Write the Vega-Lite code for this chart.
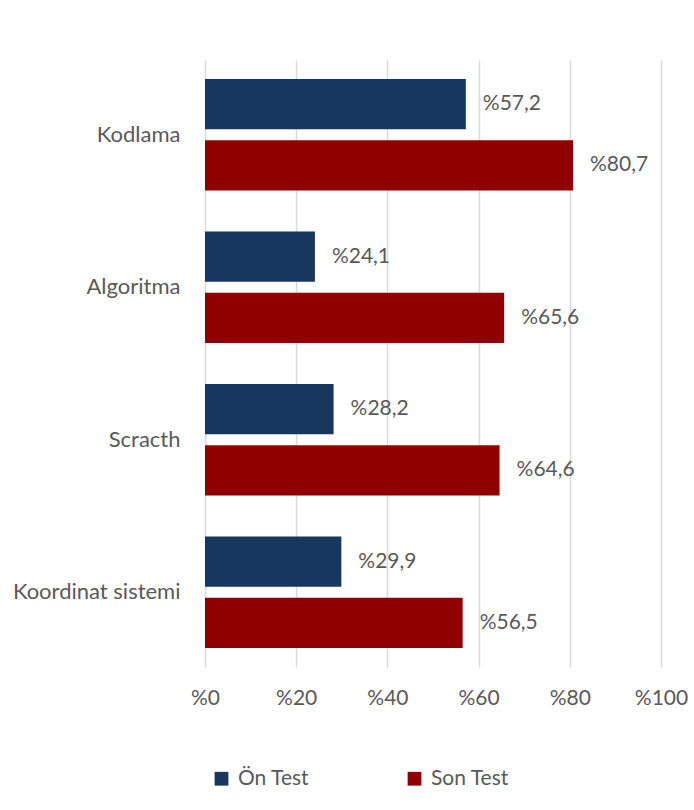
{
  "$schema": "https://vega.github.io/schema/vega-lite/v6.json",
  "autosize": "none",
  "width": 456,
  "height": 607,
  "padding": {"left": 205, "top": 60, "right": 33, "bottom": 143},
  "background": "white",
  "config": {
    "locale": {"number": {"decimal": ",", "thousands": ".", "grouping": [3], "currency": ["%", ""]}},
    "view": {"stroke": null},
    "font": "Lato",
    "text": {"font": "Lato"}
  },
  "data": {
    "values": [
      {"konu": "Kodlama", "test": "Ön Test", "deger": 57.2},
      {"konu": "Kodlama", "test": "Son Test", "deger": 80.7},
      {"konu": "Algoritma", "test": "Ön Test", "deger": 24.1},
      {"konu": "Algoritma", "test": "Son Test", "deger": 65.6},
      {"konu": "Scracth", "test": "Ön Test", "deger": 28.2},
      {"konu": "Scracth", "test": "Son Test", "deger": 64.6},
      {"konu": "Koordinat sistemi", "test": "Ön Test", "deger": 29.9},
      {"konu": "Koordinat sistemi", "test": "Son Test", "deger": 56.5}
    ]
  },
  "encoding": {
    "y": {
      "field": "konu", "type": "nominal",
      "sort": ["Kodlama", "Algoritma", "Scracth", "Koordinat sistemi"],
      "scale": {"paddingInner": 0.27, "paddingOuter": 0.125},
      "axis": {"title": null, "ticks": false, "domain": false, "labelFontSize": 22, "labelColor": "#595959", "labelPadding": 25, "labelFont": "Lato"}
    },
    "yOffset": {
      "field": "test", "type": "nominal",
      "sort": ["Ön Test", "Son Test"],
      "scale": {"paddingInner": 0.18, "paddingOuter": 0}
    },
    "x": {
      "field": "deger", "type": "quantitative",
      "scale": {"domain": [0, 100], "nice": false},
      "axis": {"title": null, "values": [0, 20, 40, 60, 80, 100], "format": "$d", "domain": false, "ticks": false, "labelFlush": false, "gridColor": "#d9d9d9", "gridWidth": 1.5, "labelFontSize": 21, "labelColor": "#595959", "labelPadding": 20, "labelFont": "Lato"}
    }
  },
  "layer": [
    {
      "mark": {"type": "bar"},
      "encoding": {
        "color": {
          "field": "test", "type": "nominal",
          "sort": ["Ön Test", "Son Test"],
          "scale": {"domain": ["Ön Test", "Son Test"], "range": ["#17375E", "#900000"]},
          "legend": {"title": null, "orient": "bottom", "direction": "horizontal", "symbolType": "square", "symbolSize": 190, "symbolStrokeWidth": 0, "symbolOpacity": 1, "labelOffset": 6, "labelFontSize": 21, "labelColor": "#595959", "labelFont": "Lato", "columnPadding": 94, "offset": 54, "padding": 6}
        }
      }
    },
    {
      "mark": {"type": "text", "align": "left", "dx": 17, "fontSize": 21, "color": "#595959", "font": "Lato"},
      "encoding": {
        "text": {"field": "deger", "type": "quantitative", "format": "$.1f"}
      }
    }
  ]
}
